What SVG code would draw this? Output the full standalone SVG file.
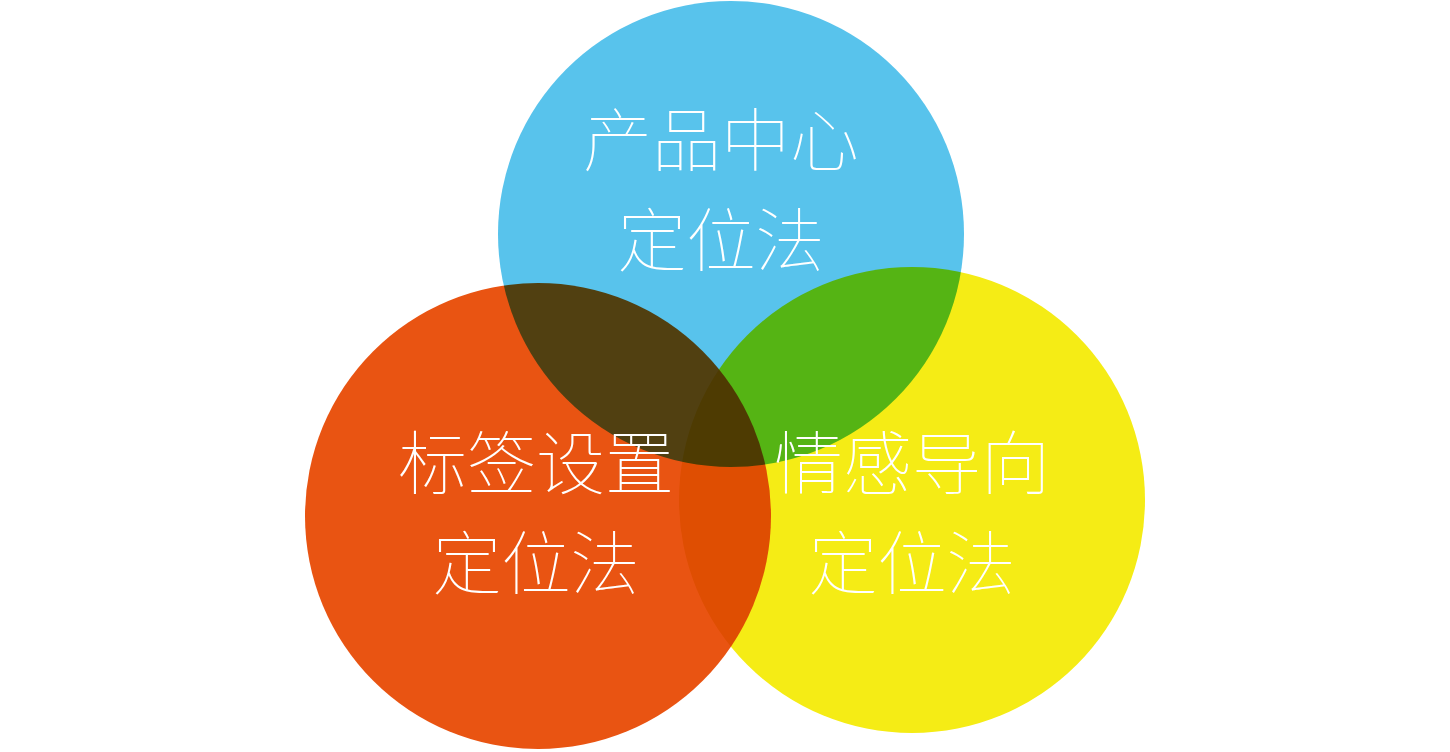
<svg xmlns="http://www.w3.org/2000/svg" width="1450" height="752" viewBox="0 0 1450 752">
<style>
.c{mix-blend-mode:multiply}
.t{font-family:"Noto Sans CJK SC","Noto Sans",sans-serif;font-weight:100;font-size:69px;fill:#fff;text-anchor:middle}
</style>
<rect width="1450" height="752" fill="#fff"/>
<g style="isolation:isolate">
<g id="blue"><circle class="c" cx="731" cy="234" r="233" fill="#58C3EC"/></g>
<g id="red"><circle class="c" cx="538" cy="516" r="233" fill="#E95412"/></g>
<g id="yellow"><circle class="c" cx="912" cy="500" r="233" fill="#F5EC15"/></g>
</g>
<g id="labels">
<text class="t" x="721" y="166">产品中心</text>
<text class="t" x="721" y="266">定位法</text>
<text class="t" x="536" y="489">标签设置</text>
<text class="t" x="536" y="589">定位法</text>
<text class="t" x="912" y="489">情感导向</text>
<text class="t" x="912" y="589">定位法</text>
</g>
<g id="connectors"></g>
</svg>
